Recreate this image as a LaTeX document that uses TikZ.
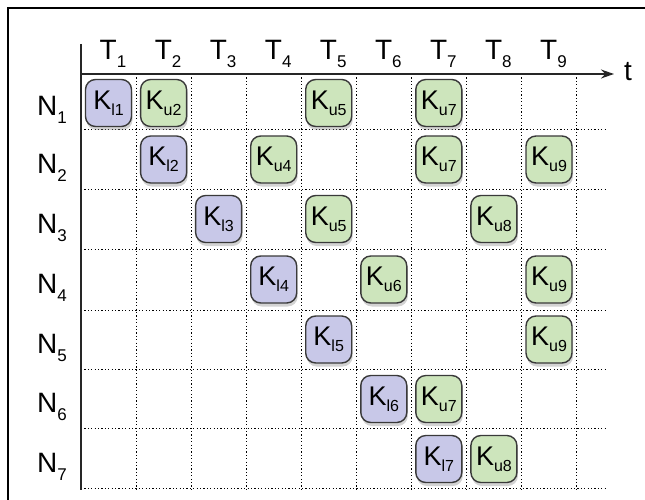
\documentclass[tikz,border=0pt]{standalone}
\usepackage{fontspec}
\setmainfont{Liberation Sans}
\usetikzlibrary{arrows.meta,shadows}
\definecolor{keyBlue}{HTML}{C8C8E8}
\definecolor{keyGreen}{HTML}{CDE5BC}
\definecolor{keyEdge}{HTML}{3A3A3A}
\newcommand{\keylbl}[1]{K\raisebox{-6pt}{\fontsize{16}{16}\selectfont #1}}
\newcommand{\axlbl}[2]{#1\raisebox{-8pt}{\fontsize{17}{17}\selectfont #2}}
\tikzset{
    KEY/.style={draw=keyEdge, line width=1.4pt, shape=rectangle,
        rounded corners=10pt, minimum width=46pt, minimum height=47pt,
        inner sep=0pt, font={\fontsize{27}{27}\selectfont},
        drop shadow={shadow xshift=1pt, shadow yshift=-3.5pt, opacity=0.35}},
    LOW_KEY/.style={KEY, fill=keyBlue},
    UP_KEY/.style={KEY, fill=keyGreen},
    HEAD/.style={inner sep=0pt, anchor=base west,
        font={\fontsize{28}{28}\selectfont}},
    GRID/.style={draw=black, line width=1pt, dash pattern=on 1.2pt off 2.2pt},
    AXIS/.style={draw=black!85, line width=1.3pt}
}

\begin{document}
\begin{tikzpicture}[x=1pt, y=-1pt]
    \useasboundingbox (0,0) rectangle (645,500);
    \draw[line width=2pt] (8,500) -- (8,8) -- (645,8);
    % grid
    \foreach \i in {1,...,9}
        \draw[GRID] (81+55.05*\i, 74) -- (81+55.05*\i, 490);
    \foreach \y in {130,189,249,310,369,428,488}
        \draw[GRID] (81,\y) -- (607,\y);
    % axes
    \coordinate (o) at (81,74);
    \coordinate (ytop) at (81,44);
    \coordinate (ybot) at (81,490);
    \coordinate (xend) at (614,74);
    \node [HEAD] (t) at (624,81) {t};
    \draw[AXIS] (ytop) -- (ybot);
    \draw[AXIS, -{Stealth[length=13pt, width=9pt]}] (o) -- (xend);
    % time slots
    \node [HEAD] (T1) at (99.5,60) {\axlbl{T}{1}};
    \node [HEAD] (T2) at (154.6,60) {\axlbl{T}{2}};
    \node [HEAD] (T3) at (209.6,60) {\axlbl{T}{3}};
    \node [HEAD] (T4) at (264.7,60) {\axlbl{T}{4}};
    \node [HEAD] (T5) at (319.7,60) {\axlbl{T}{5}};
    \node [HEAD] (T6) at (374.8,60) {\axlbl{T}{6}};
    \node [HEAD] (T7) at (429.8,60) {\axlbl{T}{7}};
    \node [HEAD] (T8) at (484.9,60) {\axlbl{T}{8}};
    \node [HEAD] (T9) at (540.0,60) {\axlbl{T}{9}};
    % nodes
    \node [HEAD] (N1) at (37,116) {\axlbl{N}{1}};
    \node [HEAD] (N2) at (37,173.5) {\axlbl{N}{2}};
    \node [HEAD] (N3) at (37,233) {\axlbl{N}{3}};
    \node [HEAD] (N4) at (37,293.5) {\axlbl{N}{4}};
    \node [HEAD] (N5) at (37,353.5) {\axlbl{N}{5}};
    \node [HEAD] (N6) at (37,412.5) {\axlbl{N}{6}};
    \node [HEAD] (N7) at (37,472) {\axlbl{N}{7}};
    % keys
    \node [LOW_KEY] (1) at (108.5,103) {\keylbl{l1}};
    \node [UP_KEY] (2) at (163.6,103) {\keylbl{u2}};
    \node [UP_KEY] (3) at (328.7,103) {\keylbl{u5}};
    \node [UP_KEY] (4) at (438.8,103) {\keylbl{u7}};
    \node [LOW_KEY] (5) at (163.6,159.5) {\keylbl{l2}};
    \node [UP_KEY] (6) at (273.7,159.5) {\keylbl{u4}};
    \node [UP_KEY] (7) at (438.8,159.5) {\keylbl{u7}};
    \node [UP_KEY] (8) at (549.0,159.5) {\keylbl{u9}};
    \node [LOW_KEY] (9) at (218.6,219) {\keylbl{l3}};
    \node [UP_KEY] (10) at (328.7,219) {\keylbl{u5}};
    \node [UP_KEY] (11) at (493.9,219) {\keylbl{u8}};
    \node [LOW_KEY] (12) at (273.7,279.5) {\keylbl{l4}};
    \node [UP_KEY] (13) at (383.8,279.5) {\keylbl{u6}};
    \node [UP_KEY] (14) at (549.0,279.5) {\keylbl{u9}};
    \node [LOW_KEY] (15) at (328.7,339.5) {\keylbl{l5}};
    \node [UP_KEY] (16) at (549.0,339.5) {\keylbl{u9}};
    \node [LOW_KEY] (17) at (383.8,399) {\keylbl{l6}};
    \node [UP_KEY] (18) at (438.8,399) {\keylbl{u7}};
    \node [LOW_KEY] (19) at (438.8,459) {\keylbl{l7}};
    \node [UP_KEY] (20) at (493.9,459) {\keylbl{u8}};
\end{tikzpicture}
\end{document}
